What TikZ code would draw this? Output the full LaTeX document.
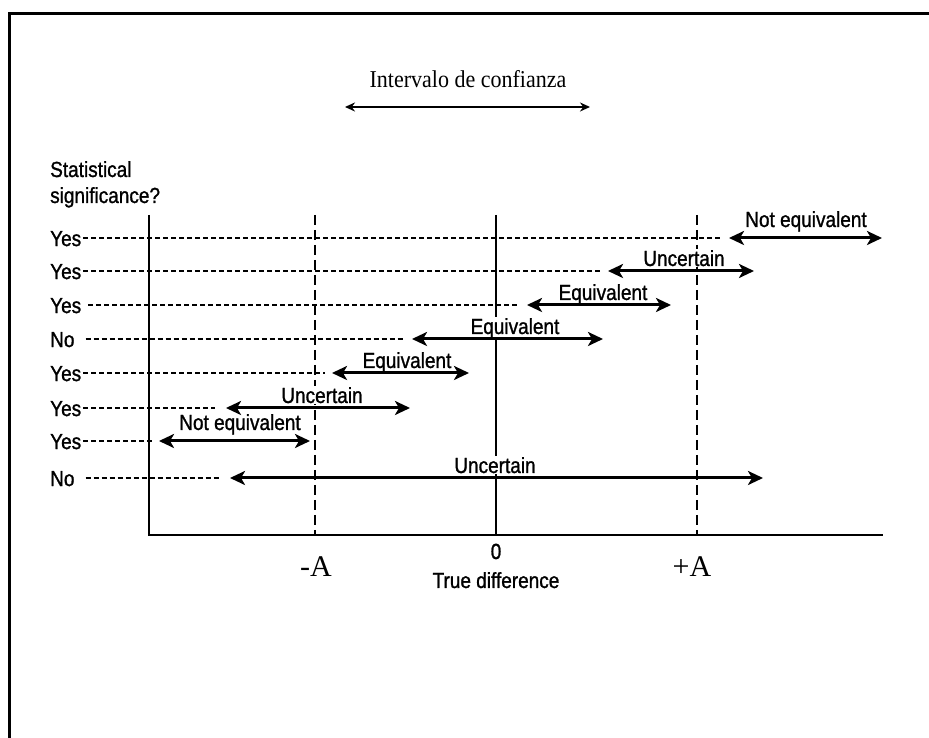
\documentclass[tikz,border=0pt]{standalone}
\usepackage{fontspec}
\setmainfont{Liberation Serif}
\setsansfont{Liberation Sans}
\newfontfamily\lblfont{Liberation Sans}[FakeBold=1.2]
\usetikzlibrary{arrows.meta}

\tikzset{
  rowlbl/.style={anchor=west, inner sep=0pt, text height=14pt, text depth=0pt, yscale=1.15,
    font=\lblfont\fontsize{19}{21}\selectfont},
  cilbl/.style={anchor=base, inner sep=1pt, fill=white, yscale=1.15,
    font=\lblfont\fontsize{19}{21}\selectfont},
  axlbl/.style={anchor=base, inner sep=0pt, yscale=1.15, font=\lblfont\fontsize{19}{21}\selectfont},
  limlbl/.style={anchor=base, inner sep=0pt, font=\fontsize{30}{32}\selectfont},
  rowdash/.style={dash pattern=on 5pt off 3pt, line width=1.2pt},
  limdash/.style={dash pattern=on 10pt off 5pt, line width=1.5pt},
  ci/.style={line width=3pt,
    arrows={Stealth[length=15pt,width=14pt,inset=4pt]-Stealth[length=15pt,width=14pt,inset=4pt]}},
}

\begin{document}
\begin{tikzpicture}[x=1pt,y=1pt]
\path[use as bounding box,fill=white] (0,0) rectangle (929,738);

% frame
\draw[line width=3pt] (9,0) -- (9,724) -- (929,724);

% title
\node[anchor=base, inner sep=0pt, yscale=1.1, font=\fontsize{22}{24}\selectfont] (title) at (468,650) {Intervalo de confianza};
\coordinate (ciL) at (345,631);
\coordinate (ciR) at (590,631);
\draw[line width=1.6pt, arrows={Stealth[length=10pt,width=9pt]-Stealth[length=10pt,width=9pt]}] (ciL) -- (ciR);

% axes
\coordinate (ytop) at (149,523);
\coordinate (orig) at (149,203);
\coordinate (xend) at (883,203);
\draw[line width=2pt] (ytop) -- (orig) -- (xend);

\coordinate (mAtop) at (315,523);
\coordinate (mAbot) at (315,203);
\draw[limdash] (mAtop) -- (mAbot);

\coordinate (pAtop) at (697,523);
\coordinate (pAbot) at (697,203);
\draw[limdash] (pAtop) -- (pAbot);

\coordinate (zerotop) at (496,523);
\coordinate (zerobot) at (496,203);
\draw[line width=1.3pt] (zerotop) -- (zerobot);

\node[limlbl] (mA) at (316,161) {-A};
\node[limlbl] (pA) at (692,161) {+A};
\node[axlbl] (zero) at (496,179) {0};
\node[axlbl] (tdiff) at (496,150) {True difference};

\node[axlbl, anchor=base west] (stat) at (50,561) {Statistical};
\node[axlbl, anchor=base west] (signif) at (50,535) {significance?};

% interval labels
\node[cilbl] (l1) at (806,511) {Not equivalent};
\node[cilbl] (l2) at (684,472) {Uncertain};
\node[cilbl] (l3) at (603,438) {Equivalent};
\node[cilbl] (l4) at (515,404) {Equivalent};
\node[cilbl] (l5) at (407,370) {Equivalent};
\node[cilbl] (l6) at (322,335) {Uncertain};
\node[cilbl] (l7) at (240,308) {Not equivalent};
\node[cilbl] (l8) at (495,265) {Uncertain};

% row 1
\node[rowlbl] (s1) at (50,500) {Yes};
\coordinate (d1) at (722,500);
\coordinate (a1) at (729,500);
\coordinate (b1) at (882,500);
\draw[rowdash, shorten <=2pt] (s1.east) -- (d1);
\draw[ci] (a1) -- (b1);

% row 2
\node[rowlbl] (s2) at (50,467) {Yes};
\coordinate (d2) at (603,467);
\coordinate (a2) at (608,467);
\coordinate (b2) at (754,467);
\draw[rowdash, shorten <=2pt] (s2.east) -- (d2);
\draw[ci] (a2) -- (b2);

% row 3
\node[rowlbl] (s3) at (50,433) {Yes};
\coordinate (d3) at (518,433);
\coordinate (a3) at (527,433);
\coordinate (b3) at (671,433);
\draw[rowdash, shorten <=7pt] (s3.east) -- (d3);
\draw[ci] (a3) -- (b3);

% row 4
\node[rowlbl] (s4) at (50,399) {No};
\coordinate (d4) at (405,399);
\coordinate (a4) at (412,399);
\coordinate (b4) at (603,399);
\draw[rowdash, shorten <=11pt] (s4.east) -- (d4);
\draw[ci] (a4) -- (b4);

% row 5
\node[rowlbl] (s5) at (50,365) {Yes};
\coordinate (d5) at (325,365);
\coordinate (a5) at (332,365);
\coordinate (b5) at (469,365);
\draw[rowdash, shorten <=2pt] (s5.east) -- (d5);
\draw[ci] (a5) -- (b5);

% row 6
\node[rowlbl] (s6) at (50,330) {Yes};
\coordinate (d6) at (215,330);
\coordinate (a6) at (226,330);
\coordinate (b6) at (410,330);
\draw[rowdash, shorten <=2pt] (s6.east) -- (d6);
\draw[ci] (a6) -- (b6);

% row 7
\node[rowlbl] (s7) at (50,297) {Yes};
\coordinate (d7) at (154,297);
\coordinate (a7) at (159,297);
\coordinate (b7) at (310,297);
\draw[rowdash, shorten <=2pt] (s7.east) -- (d7);
\draw[ci] (a7) -- (b7);

% row 8
\node[rowlbl] (s8) at (50,260) {No};
\coordinate (d8) at (220,260);
\coordinate (a8) at (230,260);
\coordinate (b8) at (763,260);
\draw[rowdash, shorten <=11pt] (s8.east) -- (d8);
\draw[ci] (a8) -- (b8);
\end{tikzpicture}
\end{document}
